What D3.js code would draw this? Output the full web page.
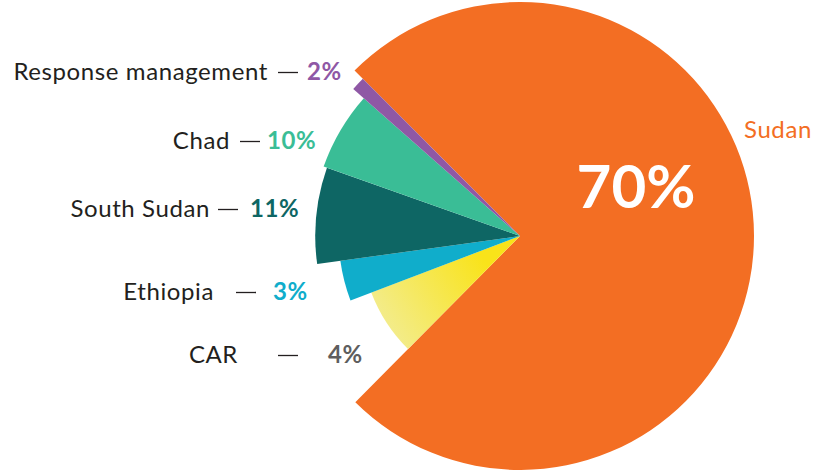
<!DOCTYPE html>
<html>
<head>
<meta charset="utf-8">
<script src="https://cdn.jsdelivr.net/npm/d3@7"></script>
<style>
  body { margin: 0; background: #fff; }
  svg { display: block; font-family: Lato, "Open Sans", sans-serif; }
</style>
</head>
<body>
<div id="chart"></div>
<script>
    // data (slice order is clockwise from the top-left)
    var names = ["Sudan", "CAR", "Ethiopia", "South Sudan", "Chad", "Response management"];
    var percents = [70, 4, 3, 11, 10, 2];
    // angular share of each slice as drawn (per cent of the full circle)
    var shares = [75, 6.8, 3.6, 7.6, 6.1, 1.0];
    // relative reach of each slice (Sudan = 1)
    var reach = [1, 0.68, 0.775, 0.875, 0.89, 0.95];
    var colors = ["#F36E23", "url(#carFill)", "#10ADCB", "#0E6664", "#3ABD96", "#8F58A5"];
    var pctColors = ["#fff", "#5E5E5E", "#10ADCB", "#0E6664", "#3ABD96", "#8F58A5"];

    var width = 813, height = 470;
    var cx = 520, cy = 236;

    var svg = d3.select("#chart")
      .append("svg")
      .attr("width", width)
      .attr("height", height);

    // gradient for CAR slice (coordinates are relative to the pie centre)
    var grad = svg.append("defs").append("linearGradient")
      .attr("id", "carFill")
      .attr("gradientUnits", "userSpaceOnUse")
      .attr("x1", -145).attr("y1", 75)
      .attr("x2", -45).attr("y2", 10);
    grad.append("stop").attr("offset", "0%").attr("stop-color", "#F3EC8C");
    grad.append("stop").attr("offset", "100%").attr("stop-color", "#F9E31A");

    var g = svg.append("g")
      .attr("transform", "translate(" + cx + "," + cy + ")");

    var r = d3.scaleLinear().domain([0, 1]).range([0, 234]);

    var pie = d3.pie()
      .sort(null)
      .value(function (d) { return d; })
      .startAngle(-Math.PI / 4)
      .endAngle(-Math.PI / 4 + 2 * Math.PI);

    var arcs = pie(shares);

    g.selectAll("path")
      .data(arcs)
      .enter()
      .append("path")
      .attr("fill", function (d, i) { return colors[i]; })
      .attr("d", function (d, i) {
        return d3.arc().innerRadius(0).outerRadius(r(reach[i]))(d);
      });

    // big label inside Sudan
    svg.append("text")
      .attr("x", 636)
      .attr("y", 208)
      .attr("text-anchor", "middle")
      .style("fill", "#fff")
      .style("font-size", "60px")
      .style("font-weight", "bold")
      .text(percents[0] + "%");

    svg.append("text")
      .attr("x", 744)
      .attr("y", 138)
      .style("fill", "#F36E23")
      .style("font-size", "24px")
      .style("letter-spacing", "0.6px")
      .text(names[0]);

    // label layout for the small slices: name end, dash start, percent start, baseline
    var labelPos = {
      "Response management": [268, 278, 307, 80],
      "Chad": [230, 240, 267, 149],
      "South Sudan": [210, 218, 250, 217],
      "Ethiopia": [214, 236, 273, 300],
      "CAR": [238, 278, 328, 363]
    };

    names.forEach(function (n, i) {
      if (i === 0) return;
      var p = labelPos[n];
      svg.append("text")
        .attr("x", p[0])
        .attr("y", p[3])
        .attr("text-anchor", "end")
        .style("fill", "#231F20")
        .style("font-size", "24px")
        .style("letter-spacing", "0.6px")
        .text(n);
      svg.append("line")
        .attr("x1", p[1])
        .attr("x2", p[1] + 20)
        .attr("y1", p[3] - 7.5)
        .attr("y2", p[3] - 7.5)
        .attr("stroke", "#231F20")
        .attr("stroke-width", 1.3);
      svg.append("text")
        .attr("x", p[2])
        .attr("y", p[3])
        .style("fill", pctColors[i])
        .style("font-size", "24px")
        .style("letter-spacing", "0.6px")
        .style("font-weight", "bold")
        .text(percents[i] + "%");
    });
</script>
</body>
</html>
